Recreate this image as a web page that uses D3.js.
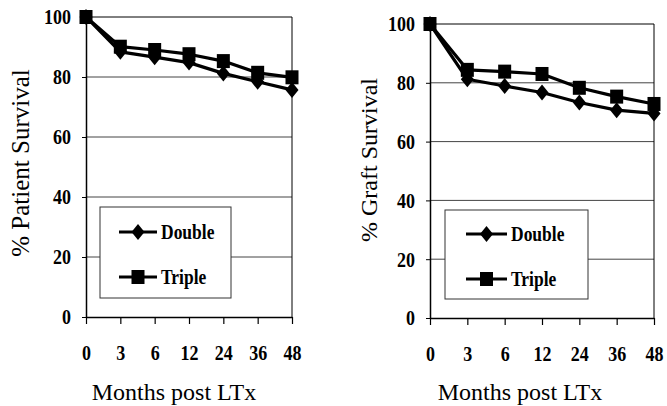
<!DOCTYPE html>
<meta charset="utf-8">
<script src="https://d3js.org/d3.v7.js"></script>
<style>
  body { margin: 0; background: #fff; }
  svg { display: block; }
</style>
<svg id="chart" width="667" height="406"></svg>
<script>
  // months post transplant (categorical axis)
  const months = ["0", "3", "6", "12", "24", "36", "48"];
  const yTicks = [0, 20, 40, 60, 80, 100];

  // % patient survival
  const patientDouble = [100, 88.4, 86.6, 84.8, 81.2, 78.4, 75.7];
  const patientTriple = [100, 90.1, 89.0, 87.6, 85.3, 81.4, 79.9];

  // % graft survival
  const graftDouble = [100, 81.2, 78.9, 76.7, 73.3, 70.7, 69.6];
  const graftTriple = [100, 84.4, 83.8, 83.0, 78.3, 75.3, 72.8];

  const seriesNames = ["Double", "Triple"];

  const svg = d3.select("#chart");
  const serif = "'Liberation Serif', 'Times New Roman', serif";
  const stretch = 1.2;  // scanned labels look a bit taller than normal

  function marker(g, name) {
    if (name === "Double") {
      g.append("path").attr("d", "M0,-8L6.5,0L0,8L-6.5,0Z").attr("fill", "#000");
    } else {
      g.append("rect").attr("x", -6.5).attr("y", -7).attr("width", 13).attr("height", 14).attr("fill", "#000");
    }
  }

  function drawPanel(p) {
    const x = d3.scalePoint().domain(months).range([p.left, p.right]).padding(0);
    const y = d3.scaleLinear().domain([0, 100]).range([p.bottom, p.top]);
    const g = svg.append("g");

    // grid lines
    g.append("g").selectAll("line")
      .data([20, 40, 60, 80])
      .join("line")
      .attr("x1", p.left).attr("x2", p.right)
      .attr("y1", d => y(d)).attr("y2", d => y(d))
      .attr("stroke", "#444").attr("stroke-width", 1);

    // top and right frame
    g.append("line").attr("x1", p.left).attr("x2", p.right).attr("y1", y(100)).attr("y2", y(100))
      .attr("stroke", "#000").attr("stroke-width", 1);
    g.append("line").attr("x1", p.right).attr("x2", p.right).attr("y1", y(100)).attr("y2", y(0))
      .attr("stroke", "#000").attr("stroke-width", 1);

    // y axis
    const ya = g.append("g")
      .attr("transform", `translate(${p.left},0)`)
      .call(d3.axisLeft(y).tickValues(yTicks).tickSize(4).tickPadding(11).tickSizeOuter(0));
    ya.select(".domain").attr("stroke-width", 1.5);
    ya.selectAll("text")
      .attr("font-family", serif).attr("font-weight", "bold").attr("font-size", 18)
      .attr("fill", "#000")
      .attr("transform", `scale(1,${stretch})`);

    // x axis
    const xa = g.append("g")
      .attr("transform", `translate(0,${p.bottom})`)
      .call(d3.axisBottom(x).tickSize(7).tickSizeOuter(0));
    xa.select(".domain").attr("stroke-width", 1.5);
    xa.selectAll("line").attr("stroke-width", 1.2);
    xa.selectAll("text")
      .attr("font-family", serif).attr("font-weight", "bold").attr("font-size", 18)
      .attr("fill", "#000")
      .attr("y", 43 / stretch).attr("dy", 0)
      .attr("transform", `scale(1,${stretch})`);

    // series lines and markers
    const line = d3.line().x((d, i) => x(months[i])).y(d => y(d));
    p.series.forEach(vals => {
      g.append("path").datum(vals)
        .attr("d", line)
        .attr("fill", "none").attr("stroke", "#000").attr("stroke-width", 3.2)
        .attr("stroke-linejoin", "round");
    });
    p.series.forEach((vals, k) => {
      vals.forEach((v, i) => {
        const m = g.append("g").attr("transform", `translate(${x(months[i])},${y(v)})`);
        marker(m, seriesNames[k]);
      });
    });

    // legend
    const lg = g.append("g");
    lg.append("rect")
      .attr("x", p.legend[0]).attr("y", p.legend[1])
      .attr("width", p.legend[2]).attr("height", p.legend[3])
      .attr("fill", "#fff").attr("stroke", "#333").attr("stroke-width", 1);
    seriesNames.forEach((name, k) => {
      const cy = p.legendRows[k];
      lg.append("line")
        .attr("x1", p.legendLine[0]).attr("x2", p.legendLine[1])
        .attr("y1", cy).attr("y2", cy)
        .attr("stroke", "#000").attr("stroke-width", 3);
      const m = lg.append("g").attr("transform", `translate(${(p.legendLine[0] + p.legendLine[1]) / 2},${cy})`);
      marker(m, name);
      lg.append("text")
        .attr("transform", `translate(${p.legendLine[1] + 4},${cy + 7}) scale(1,${stretch})`)
        .attr("font-family", serif).attr("font-weight", "bold").attr("font-size", 17.5)
        .text(name);
    });

    // axis titles
    g.append("text")
      .attr("x", p.xTitleX).attr("y", 400)
      .attr("text-anchor", "middle")
      .attr("font-family", serif).attr("font-size", 24)
      .text("Months post LTx");
    g.append("text")
      .attr("transform", `translate(${p.titleX},${p.titleY}) rotate(-90)`)
      .attr("text-anchor", "middle")
      .attr("font-family", serif).attr("font-size", p.titleSize)
      .text(p.yTitle);
  }

  drawPanel({
    left: 86, right: 292, top: 17, bottom: 317,
    series: [patientDouble, patientTriple],
    yTitle: "% Patient Survival", titleX: 29, titleY: 163, titleSize: 25, xTitleX: 174,
    legend: [100, 207, 131, 91], legendLine: [119, 157], legendRows: [232, 277]
  });

  drawPanel({
    left: 430, right: 654, top: 24, bottom: 318,
    series: [graftDouble, graftTriple],
    yTitle: "% Graft Survival", titleX: 377, titleY: 160, titleSize: 24, xTitleX: 520,
    legend: [445, 210, 143, 89], legendLine: [466, 507], legendRows: [234, 279]
  });
</script>
